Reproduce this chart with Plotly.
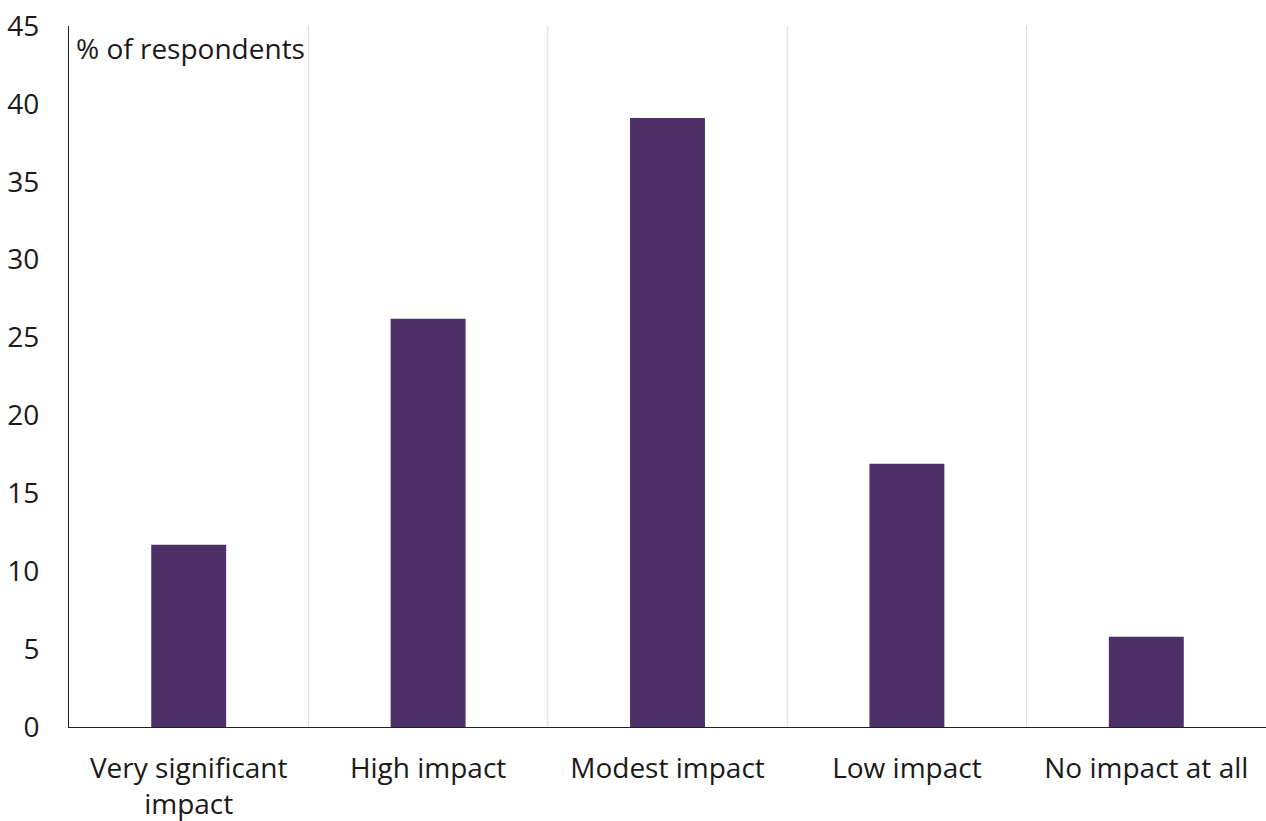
import plotly.graph_objects as go

categories = ["Very significant<br>impact", "High impact", "Modest impact", "Low impact", "No impact at all"]
values = [11.7, 26.2, 39.1, 16.9, 5.8]
y_ticks = [0, 5, 10, 15, 20, 25, 30, 35, 40, 45]

BAR_COLOR = "#4e3069"
FONT = "Open Sans"

fig = go.Figure(go.Bar(x=list(range(len(categories))), y=values, marker=dict(color=BAR_COLOR, line=dict(width=0)), width=0.313))

shapes = []
for i in range(len(categories) - 1):
    shapes.append(dict(type="line", xref="x", yref="paper", x0=i + 0.5, x1=i + 0.5, y0=0, y1=1,
                       line=dict(color="#d9d9d9", width=1), layer="below"))

fig.update_layout(
    width=1266, height=821,
    margin=dict(l=69, r=0, t=26, b=94),
    plot_bgcolor="white", paper_bgcolor="white",
    font=dict(family=FONT, size=28, color="#1a1a1a"),
    showlegend=False,
    shapes=shapes,
    xaxis=dict(range=[-0.5, len(categories) - 0.5], tickmode="array", tickvals=list(range(len(categories))),
               ticktext=categories, showgrid=False, zeroline=False, showline=True, linecolor="#222", linewidth=1,
               ticks="", ticklabelstandoff=16, fixedrange=True),
    yaxis=dict(range=[0, 45], tickmode="array", tickvals=y_ticks, showgrid=False, zeroline=False,
               showline=True, linecolor="#222", linewidth=1, ticks="", ticklabelstandoff=23),
    annotations=[dict(text="% of respondents", xref="paper", yref="paper", x=0.004, y=0.998, xanchor="left",
                      yanchor="top", showarrow=False, font=dict(family=FONT, size=28, color="#1a1a1a"))],
)

fig.write_html("out.html")
